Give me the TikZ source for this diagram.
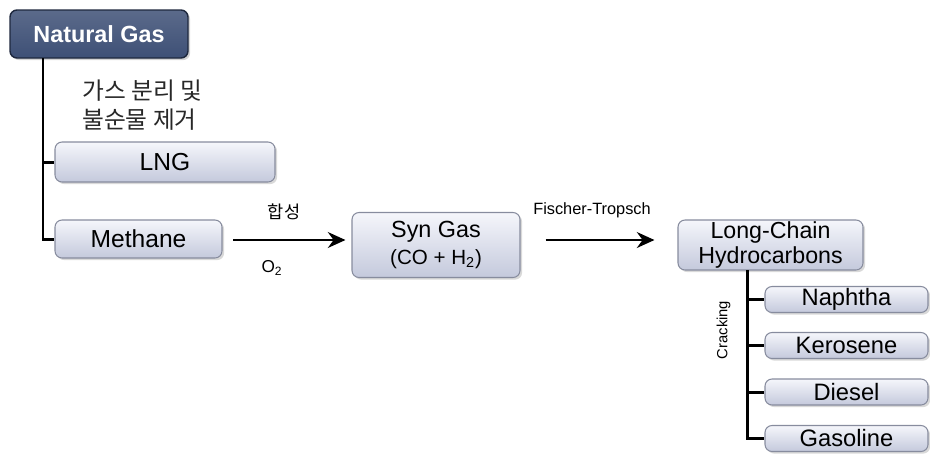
\documentclass[tikz,border=0pt]{standalone}
\usepackage{fontspec}
\setmainfont{Liberation Sans}
\newfontfamily\kofont{Noto Sans CJK KR}
\usepackage{tikz}
\usetikzlibrary{arrows.meta, positioning, calc, shadows}
\definecolor{navy}{RGB}{62, 80, 118}
\definecolor{navyline}{RGB}{30, 40, 62}
\definecolor{boxtop}{RGB}{245, 246, 251}
\definecolor{boxbottom}{RGB}{196, 201, 220}
\definecolor{boxline}{RGB}{135, 140, 158}
\definecolor{kotext}{RGB}{40, 40, 40}

\begin{document}
\begin{tikzpicture}[
    source/.style={draw=navyline, line width=0.8pt, top color=navy!85, bottom color=navy, rounded corners=4pt,
        text=white, font=\fontsize{13.3}{15}\selectfont\bfseries, inner sep=0pt,
        drop shadow={opacity=0.35, shadow xshift=1.2pt, shadow yshift=-1.2pt}},
    product/.style={draw=boxline, line width=0.6pt, top color=boxtop, bottom color=boxbottom, rounded corners=4pt,
        font=\fontsize{14}{15.5}\selectfont, inner sep=0pt, align=center,
        drop shadow={opacity=0.3, shadow xshift=1.2pt, shadow yshift=-1.2pt}},
    fuel/.style={product, minimum width=3.26cm, minimum height=0.52cm, font=\fontsize{13.5}{15}\selectfont},
    tree/.style={line width=1.7pt},
    flow/.style={-{Stealth[length=10pt, width=9pt]}, line width=1.6pt},
    note/.style={font=\fontsize{9.3}{11}\selectfont}
]
    \useasboundingbox (0,0) rectangle (18.6,-9.14);

    % Feedstock
    \node[source, minimum width=3.56cm, minimum height=0.96cm] (ng) at (1.98,-0.68) {Natural Gas};
    \node[anchor=west, align=left, text=kotext, font=\kofont\fontsize{13.5}{16.5}\selectfont] (sep) at (1.52,-2.1) {가스 분리 및\\불순물 제거};
    \node[product, minimum width=4.4cm, minimum height=0.8cm] (lng) at (3.3,-3.24) {LNG};
    \node[product, minimum width=3.34cm, minimum height=0.76cm] (meth) at (2.77,-4.78) {Methane};

    % Branches from natural gas
    \coordinate (trunk) at (0.86,-1.16);
    \draw[tree] (trunk) |- (meth.west);
    \draw[tree] (trunk |- lng.west) -- (lng.west);

    % Synthesis chain
    \node[product, minimum width=3.36cm, minimum height=1.3cm, font=\fontsize{13.3}{14}\selectfont] (syn) at (8.72,-4.9)
        {Syn Gas\\[1pt]{\fontsize{11.7}{13}\selectfont(CO + H\textsubscript{2})}};
    \node[product, minimum width=3.7cm, minimum height=1cm, font=\fontsize{13.2}{13.8}\selectfont] (lch) at (15.41,-4.9)
        {Long-Chain\\Hydrocarbons};

    \draw[flow] (4.66,-4.8) -- ($(syn.west |- 0,-4.8)+(-0.12,0)$);
    \node[note, font=\kofont\fontsize{10}{11}\selectfont] (hap) at (5.68,-4.24) {합성};
    \node[note, font=\fontsize{9.8}{11}\selectfont] (o2) at (5.44,-5.36) {O\textsubscript{2}};
    \draw[flow] (syn.east |- 0,-4.8) ++(0.5,0) -- ($(lch.west |- 0,-4.8)+(-0.46,0)$);
    \node[note] (ft) at (11.84,-4.2) {Fischer-Tropsch};

    % Cracking products
    \node[fuel] (nap) at (16.93,-5.99) {Naphtha};
    \node[fuel] (ker) at (16.93,-6.91) {Kerosene};
    \node[fuel] (die) at (16.93,-7.84) {Diesel};
    \node[fuel] (gas) at (16.93,-8.77) {Gasoline};

    \coordinate (stem) at (14.94,-5.4);
    \draw[tree] (stem) |- (gas.west);
    \foreach \f in {nap, ker, die}
        \draw[tree] (stem |- \f.west) -- (\f.west);
    \node[rotate=90, font=\fontsize{8.4}{10}\selectfont] (crack) at (14.47,-6.6) {Cracking};

\end{tikzpicture}
\end{document}
